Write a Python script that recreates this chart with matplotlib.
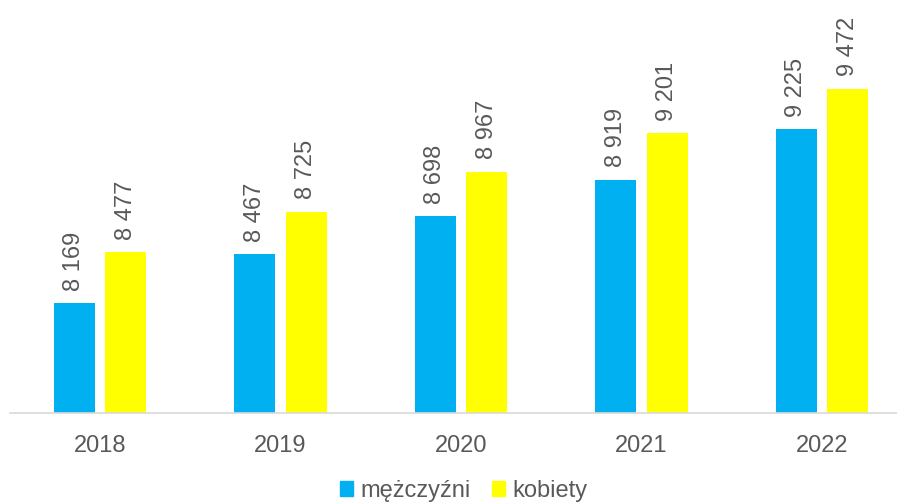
import matplotlib.pyplot as plt
from matplotlib.patches import Patch
import numpy as np

years = ["2018", "2019", "2020", "2021", "2022"]
men = [8169, 8467, 8698, 8919, 9225]
women = [8477, 8725, 8967, 9201, 9472]
series_names = ["mężczyźni", "kobiety"]

BLUE = "#00B0F0"
YELLOW = "#FFFF00"
TEXT = "#595959"


def fmt(v):
    return f"{v:,}".replace(",", " ")


def main():
    plt.rcParams["font.family"] = ["Liberation Sans", "DejaVu Sans"]
    fig = plt.figure(figsize=(8.97, 5.04), dpi=100)
    W, H = 897, 504
    # axes in pixel terms: left 10, bottom at y=413, top at y=2
    ax = fig.add_axes([10 / W, (H - 413) / H, 887 / W, 411 / H])

    x = np.arange(len(years))
    bw = 0.227
    off = 0.143
    b1 = ax.bar(x - off, men, bw, color=BLUE)
    b2 = ax.bar(x + off, women, bw, color=YELLOW)

    for bars, vals in ((b1, men), (b2, women)):
        for r, v in zip(bars, vals):
            ax.annotate(fmt(v), (r.get_x() + r.get_width() / 2, v),
                        xytext=(0, 9), textcoords="offset points",
                        rotation=90, ha="center", va="bottom",
                        fontsize=17, color=TEXT)

    ax.set_ylim(7500, 10000)
    ax.set_xlim(-90 / 180.5, (887 - 90) / 180.5)
    ax.set_yticks([])
    ax.set_xticks(x)
    ax.set_xticklabels(years, fontsize=17, color=TEXT)
    ax.tick_params(axis="x", length=0, pad=16)
    for s in ["top", "right", "left"]:
        ax.spines[s].set_visible(False)
    ax.spines["bottom"].set_color("#D9D9D9")
    ax.spines["bottom"].set_linewidth(1.2)

    handles = [Patch(color=BLUE), Patch(color=YELLOW)]
    leg = fig.legend(handles, series_names, loc="lower center",
                     bbox_to_anchor=(0.517, -0.038), ncol=2, frameon=False,
                     fontsize=17, handlelength=0.55, handleheight=0.55,
                     handletextpad=0.3, columnspacing=0.9)
    for t in leg.get_texts():
        t.set_color(TEXT)

    fig.savefig("out.png", dpi=100)


if __name__ == "__main__":
    main()
